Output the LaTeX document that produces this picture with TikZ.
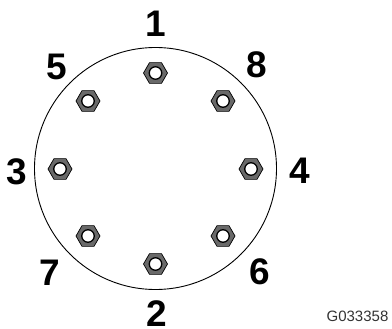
\documentclass[tikz,border=0pt]{standalone}
\usepackage{fontspec}
\setmainfont{Liberation Sans}
\usetikzlibrary{shapes.geometric}
\definecolor{nutgray}{RGB}{105, 105, 105}

\begin{document}
\begin{tikzpicture}[
    x=1pt, y=-1pt,
    nut/.style={regular polygon, regular polygon sides=6, draw=black, fill=nutgray,
                line width=0.7pt, minimum size=24pt, inner sep=0pt},
    nuthole/.style={circle, draw=black, fill=white, line width=1.3pt,
                    minimum size=12.5pt, inner sep=0pt},
    num/.style={font=\bfseries\fontsize{37}{37}\selectfont, inner sep=0pt},
    code/.style={font=\fontsize{15}{15}\selectfont, color=black!80, inner sep=0pt}
]
    \useasboundingbox (0,0) rectangle (392,329);
    \node[circle, draw=black, line width=0.9pt, minimum size=242pt, inner sep=0pt] (plate) at (155.5,168.5) {};

    \foreach \name/\x/\y in {a/155.5/73, b/155.5/264, c/60/169, d/251/169, e/88/101, f/223/236, g/88/236, h/223/101} {
        \node[nut] (nut\name) at (\x,\y) {};
        \node[nuthole] (hole\name) at (\x,\y) {};
    }

    \node[num] (n1) at (156,24) {1};
    \node[num] (n2) at (157,314) {2};
    \node[num] (n3) at (17,172) {3};
    \node[num] (n4) at (300,171) {4};
    \node[num] (n5) at (57,67) {5};
    \node[num] (n6) at (260,272) {6};
    \node[num] (n7) at (50,273) {7};
    \node[num] (n8) at (257,65) {8};
    \node[code] (tag) at (357.5,316) {G033358};
\end{tikzpicture}
\end{document}
